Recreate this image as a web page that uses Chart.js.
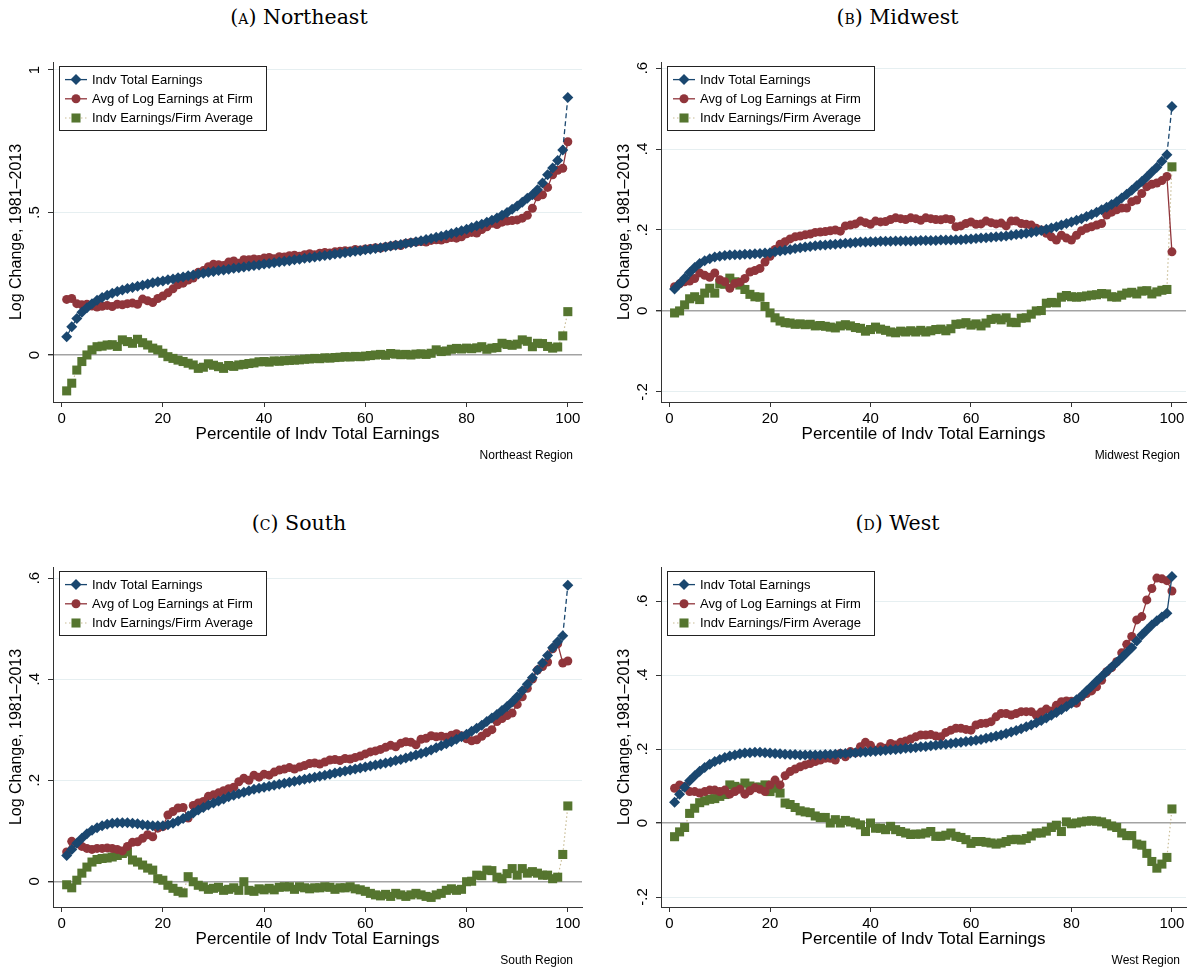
<!DOCTYPE html>
<html lang="en">
<head>
<meta charset="UTF-8">
<title>Log change by region</title>
<style>
  body { margin: 0; background: #fff; }
  #page { position: relative; width: 1197px; height: 973px; overflow: hidden; font-family: "Liberation Sans", Arial, sans-serif; }
  .ttl { position: absolute; text-align: center; font-family: "DejaVu Serif", serif; font-size: 20.5px; color: #000; line-height: 24px; }
  .sc { font-variant: small-caps; }
  .note { position: absolute; font-size: 12px; color: #000; line-height: 14px; text-align: right; }
  canvas { position: absolute; }
</style>
</head>
<body>
<div id="page">
  <div class="ttl" style="left:0; width:598px; top:5px"><span class="sc">(a)</span> Northeast</div>
  <div class="ttl" style="left:598px; width:599px; top:5px"><span class="sc">(b)</span> Midwest</div>
  <div class="ttl" style="left:0; width:598px; top:511px"><span class="sc">(c)</span> South</div>
  <div class="ttl" style="left:598px; width:599px; top:511px"><span class="sc">(d)</span> West</div>

  <canvas id="cNE" width="598" height="410" style="left:0; top:40px"></canvas>
  <canvas id="cMW" width="599" height="410" style="left:598px; top:40px"></canvas>
  <canvas id="cSO" width="598" height="410" style="left:0; top:545px"></canvas>
  <canvas id="cWE" width="599" height="410" style="left:598px; top:545px"></canvas>

  <div class="note" style="right:624px; top:448px">Northeast Region</div>
  <div class="note" style="right:17px; top:448px">Midwest Region</div>
  <div class="note" style="right:624px; top:953px">South Region</div>
  <div class="note" style="right:17px; top:953px">West Region</div>
</div>

<script src="https://cdn.jsdelivr.net/npm/chart.js"></script>
<script>
// percentile of individual total earnings
const pct = [
  1, 2, 3, 4, 5, 6, 7, 8, 9, 10,
  11, 12, 13, 14, 15, 16, 17, 18, 19, 20,
  21, 22, 23, 24, 25, 26, 27, 28, 29, 30,
  31, 32, 33, 34, 35, 36, 37, 38, 39, 40,
  41, 42, 43, 44, 45, 46, 47, 48, 49, 50,
  51, 52, 53, 54, 55, 56, 57, 58, 59, 60,
  61, 62, 63, 64, 65, 66, 67, 68, 69, 70,
  71, 72, 73, 74, 75, 76, 77, 78, 79, 80,
  81, 82, 83, 84, 85, 86, 87, 88, 89, 90,
  91, 92, 93, 94, 95, 96, 97, 98, 99, 100
];

const seriesNames = ['Indv Total Earnings', 'Avg of Log Earnings at Firm', 'Indv Earnings/Firm Average'];
const xTicks = [0, 20, 40, 60, 80, 100];

// Northeast
const neBlue = [
  .064, .099, .128, .150, .166, .180, .192, .202, .210, .217,
  .223, .228, .233, .237, .241, .245, .249, .253, .257, .260,
  .264, .267, .271, .274, .278, .281, .284, .287, .290, .293,
  .296, .298, .301, .304, .306, .309, .311, .314, .316, .319,
  .321, .324, .326, .329, .331, .334, .336, .339, .341, .344,
  .346, .349, .351, .354, .356, .359, .361, .364, .366, .369,
  .371, .374, .376, .379, .382, .385, .388, .391, .394, .397,
  .401, .405, .409, .413, .417, .421, .426, .431, .436, .441,
  .447, .453, .459, .466, .473, .481, .490, .500, .511, .523,
  .536, .550, .562, .580, .603, .632, .656, .682, .719, .903
];
const neRed = [
  .195, .198, .180, .176, .178, .172, .168, .171, .174, .170,
  .178, .176, .180, .182, .178, .196, .190, .184, .198, .207,
  .218, .232, .246, .252, .263, .270, .290, .296, .310, .318,
  .317, .314, .326, .330, .322, .334, .334, .337, .335, .340,
  .342, .338, .345, .344, .348, .350, .346, .352, .355, .352,
  .357, .360, .358, .362, .364, .366, .365, .370, .368, .372,
  .374, .376, .375, .380, .382, .386, .384, .392, .395, .396,
  .398, .396, .402, .404, .403, .408, .412, .410, .415, .425,
  .430, .428, .440, .450, .462, .458, .466, .470, .472, .474,
  .480, .490, .515, .555, .562, .588, .632, .648, .655, .748
];
const neGreen = [
  -.126, -.099, -.053, -.023, .000, .018, .029, .031, .035, .036,
  .030, .053, .047, .041, .055, .043, .035, .024, .018, .006,
  -.006, -.012, -.018, -.023, -.029, -.035, -.047, -.043, -.031, -.036,
  -.041, -.047, -.037, -.040, -.035, -.033, -.030, -.028, -.024, -.023,
  -.025, -.021, -.022, -.020, -.019, -.018, -.017, -.015, -.014, -.012,
  -.013, -.010, -.011, -.009, -.008, -.006, -.007, -.005, -.006, -.004,
  -.002, .000, .002, -.001, .005, .003, .001, .002, .000, .003,
  .004, .002, .006, .018, .012, .014, .020, .023, .021, .024,
  .022, .025, .029, .020, .024, .026, .041, .037, .034, .038,
  .053, .048, .029, .041, .040, .030, .024, .028, .067, .152
];
const neYTicks = [0, .5, 1];
const neYText = ['0', '.5', '1'];

// Midwest
const mwBlue = [
  .054, .067, .081, .095, .107, .117, .124, .129, .133, .135,
  .137, .138, .139, .139, .140, .140, .141, .142, .143, .144,
  .146, .148, .150, .152, .154, .156, .158, .159, .161, .162,
  .163, .164, .165, .166, .167, .168, .169, .170, .170, .171,
  .171, .172, .172, .172, .173, .173, .173, .173, .173, .174,
  .174, .174, .174, .175, .175, .175, .176, .176, .177, .178,
  .179, .180, .181, .182, .183, .184, .185, .187, .189, .190,
  .192, .194, .196, .199, .202, .205, .208, .212, .216, .220,
  .224, .228, .233, .238, .244, .250, .256, .263, .270, .279,
  .288, .298, .309, .320, .331, .343, .355, .370, .386, .505
];
const mwRed = [
  .060, .067, .072, .074, .080, .094, .088, .083, .094, .077,
  .072, .056, .068, .071, .080, .096, .100, .105, .121, .135,
  .152, .165, .171, .178, .183, .185, .188, .190, .194, .195,
  .196, .198, .200, .197, .210, .212, .215, .222, .218, .214,
  .222, .220, .221, .226, .230, .228, .226, .230, .228, .224,
  .230, .228, .226, .225, .228, .226, .208, .210, .216, .220,
  .214, .215, .222, .218, .215, .217, .210, .222, .222, .216,
  .214, .212, .204, .200, .192, .183, .175, .187, .180, .175,
  .187, .198, .204, .208, .212, .216, .237, .244, .250, .254,
  .254, .270, .274, .290, .307, .313, .316, .322, .332, .146
];
const mwGreen = [
  -.005, .000, .015, .030, .035, .028, .044, .056, .044, .067,
  .066, .081, .072, .064, .053, .041, .035, .034, .011, -.005,
  -.017, -.025, -.029, -.030, -.033, -.032, -.034, -.033, -.037, -.036,
  -.038, -.040, -.042, -.037, -.034, -.037, -.041, -.043, -.050, -.046,
  -.040, -.045, -.048, -.052, -.054, -.050, -.052, -.049, -.052, -.048,
  -.052, -.049, -.046, -.045, -.049, -.044, -.033, -.032, -.029, -.035,
  -.032, -.037, -.030, -.021, -.018, -.022, -.017, -.028, -.029, -.018,
  -.017, -.008, .000, .001, .019, .021, .020, .034, .038, .035,
  .034, .035, .037, .039, .040, .043, .042, .035, .034, .039,
  .044, .046, .042, .049, .050, .042, .047, .051, .053, .356
];
const mwYTicks = [-.2, 0, .2, .4, .6];
const mwYText = ['-.2', '0', '.2', '.4', '.6'];

// South
const soBlue = [
  .051, .063, .075, .085, .094, .101, .106, .110, .113, .115,
  .116, .116, .116, .115, .114, .112, .111, .110, .110, .110,
  .112, .115, .119, .124, .129, .135, .141, .146, .151, .155,
  .159, .163, .167, .170, .173, .176, .179, .182, .184, .186,
  .188, .190, .192, .194, .196, .198, .200, .202, .204, .206,
  .208, .210, .212, .214, .216, .218, .220, .222, .224, .226,
  .228, .230, .232, .234, .236, .239, .241, .244, .247, .250,
  .253, .256, .260, .264, .268, .272, .276, .281, .286, .291,
  .297, .303, .309, .316, .323, .330, .338, .346, .355, .365,
  .377, .390, .403, .418, .432, .447, .462, .474, .486, .586
];
const soRed = [
  .058, .079, .075, .069, .065, .063, .065, .065, .066, .065,
  .063, .060, .069, .077, .078, .085, .092, .088, .105, .108,
  .131, .138, .145, .146, .125, .150, .155, .158, .168, .171,
  .175, .179, .183, .186, .197, .204, .200, .210, .206, .212,
  .210, .216, .220, .222, .225, .222, .226, .229, .233, .234,
  .232, .236, .240, .241, .239, .243, .242, .245, .248, .252,
  .256, .258, .261, .265, .269, .266, .273, .276, .275, .270,
  .281, .283, .288, .286, .287, .285, .289, .292, .288, .282,
  .278, .280, .287, .294, .300, .316, .322, .328, .333, .350,
  .365, .382, .400, .418, .425, .434, .460, .470, .432, .436
];
const soGreen = [
  -.007, -.013, .002, .016, .028, .038, .043, .045, .046, .048,
  .051, .055, .058, .042, .038, .032, .026, .022, .005, .002,
  -.008, -.014, -.020, -.023, .009, -.001, -.008, -.011, -.016, -.014,
  -.012, -.018, -.016, -.013, -.018, -.001, -.018, -.020, -.015, -.017,
  -.014, -.017, -.012, -.011, -.011, -.016, -.011, -.013, -.015, -.013,
  -.013, -.011, -.012, -.016, -.013, -.013, -.011, -.015, -.017, -.020,
  -.024, -.027, -.029, -.026, -.030, -.024, -.027, -.030, -.027, -.024,
  -.027, -.030, -.032, -.027, -.024, -.018, -.015, -.018, -.016, -.001,
  .000, .012, .011, .022, .021, .008, .005, .015, .025, .012,
  .025, .016, .019, .016, .012, .012, .005, .008, .053, .149
];
const soYTicks = [0, .2, .4, .6];
const soYText = ['0', '.2', '.4', '.6'];

// West
const weBlue = [
  .056, .078, .097, .114, .128, .140, .150, .159, .166, .172,
  .177, .181, .184, .187, .189, .190, .191, .191, .190, .189,
  .188, .187, .186, .185, .185, .184, .184, .184, .184, .184,
  .185, .185, .186, .187, .188, .189, .190, .191, .192, .193,
  .194, .195, .197, .198, .199, .200, .202, .203, .204, .206,
  .207, .209, .210, .212, .213, .215, .217, .218, .220, .222,
  .224, .226, .229, .232, .235, .238, .242, .246, .250, .255,
  .260, .265, .271, .277, .284, .291, .299, .307, .315, .324,
  .333, .343, .357, .370, .383, .396, .409, .422, .434, .447,
  .460, .474, .492, .508, .522, .535, .547, .557, .567, .666
];
const weRed = [
  .094, .103, .099, .085, .085, .081, .085, .089, .089, .085,
  .089, .078, .085, .091, .078, .087, .095, .091, .085, .103,
  .116, .103, .128, .139, .146, .152, .157, .161, .166, .170,
  .175, .175, .170, .188, .179, .193, .190, .206, .218, .210,
  .197, .206, .202, .215, .211, .218, .222, .227, .233, .238,
  .238, .239, .235, .233, .245, .251, .256, .256, .253, .251,
  .265, .269, .270, .274, .287, .296, .296, .292, .296, .301,
  .301, .301, .292, .300, .308, .303, .318, .328, .330, .329,
  .324, .341, .350, .357, .368, .386, .409, .420, .436, .460,
  .483, .504, .549, .558, .603, .634, .662, .660, .655, .627
];
const weGreen = [
  -.037, -.024, -.012, .026, .040, .055, .060, .064, .066, .072,
  .077, .103, .099, .095, .108, .100, .097, .097, .103, .085,
  .094, .081, .054, .050, .042, .033, .030, .028, .019, .015,
  .015, .000, .009, .000, .007, .003, .000, -.005, -.023, .000,
  -.014, -.014, -.018, -.009, -.018, -.023, -.027, -.031, -.030, -.030,
  -.027, -.023, -.036, -.036, -.033, -.027, -.036, -.039, -.045, -.055,
  -.050, -.050, -.052, -.054, -.057, -.054, -.050, -.045, -.044, -.046,
  -.042, -.035, -.027, -.027, -.022, -.012, -.006, -.023, .003, -.002,
  .000, .003, .005, .006, .005, .003, -.002, -.008, -.012, -.027,
  -.034, -.034, -.057, -.060, -.082, -.104, -.122, -.111, -.093, .038
];
const weYTicks = [-.2, 0, .2, .4, .6];
const weYText = ['-.2', '0', '.2', '.4', '.6'];

const NAVY = '#1a476f';
const MAROON = '#90353b';
const FOREST = '#55752f';
const DOTLINE = '#c9bd96';
const FONT = '"Liberation Sans", Arial, sans-serif';

// rotated y labels + Stata style legend box
const stataExtras = {
  id: 'stataExtras',
  afterDraw(chart, args, opts) {
    const ctx = chart.ctx;
    const area = chart.chartArea;
    const ys = chart.scales.y;
    ctx.save();
    ctx.fillStyle = '#000';
    ctx.font = '15px ' + FONT;
    ctx.textAlign = 'center';
    ctx.textBaseline = 'middle';
    opts.ticks.forEach((v, i) => {
      ctx.save();
      ctx.translate(area.left - 18, ys.getPixelForValue(v));
      ctx.rotate(-Math.PI / 2);
      ctx.fillText(opts.tickText[i], 0, 0);
      ctx.restore();
    });

    const bx = Math.round(area.left) + 6, by = Math.round(area.top) + 4;
    const bw = 207, bh = 64;
    ctx.fillStyle = '#fff';
    ctx.fillRect(bx, by, bw, bh);
    ctx.strokeStyle = '#222';
    ctx.lineWidth = 1;
    ctx.strokeRect(bx + 0.5, by + 0.5, bw, bh);

    chart.data.datasets.forEach((ds, i) => {
      const cy = by + 13.6 + i * 19.2;
      ctx.strokeStyle = ds.borderColor;
      ctx.lineWidth = ds.borderWidth;
      ctx.setLineDash(ds.borderDash || []);
      ctx.beginPath();
      ctx.moveTo(bx + 6, cy);
      ctx.lineTo(bx + 28, cy);
      ctx.stroke();
      ctx.setLineDash([]);
      const mx = bx + 17;
      ctx.fillStyle = ds.pointBackgroundColor;
      ctx.beginPath();
      if (ds.pointStyle === 'rectRot') {
        const r = ds.pointRadius;
        ctx.moveTo(mx - r, cy); ctx.lineTo(mx, cy - r); ctx.lineTo(mx + r, cy); ctx.lineTo(mx, cy + r);
        ctx.closePath();
      } else if (ds.pointStyle === 'rect') {
        const s = ds.pointRadius * Math.SQRT1_2;
        ctx.rect(mx - s, cy - s, 2 * s, 2 * s);
      } else {
        ctx.arc(mx, cy, ds.pointRadius, 0, Math.PI * 2);
      }
      ctx.fill();
      ctx.fillStyle = '#000';
      ctx.font = '13px ' + FONT;
      ctx.textAlign = 'left';
      ctx.textBaseline = 'middle';
      ctx.fillText(ds.label, bx + 33, cy + 0.5);
    });
    ctx.restore();
  }
};

function toXY(vals) {
  return pct.map((p, i) => ({ x: p, y: vals[i] }));
}

function makePanel(id, cfg) {
  return new Chart(document.getElementById(id), {
    type: 'line',
    data: {
      datasets: [
        {
          label: seriesNames[0],
          data: toXY(cfg.blue),
          borderColor: NAVY,
          borderWidth: 1.3,
          pointStyle: 'rectRot',
          pointRadius: 5.5,
          pointBackgroundColor: NAVY,
          pointBorderWidth: 0,
          segment: {
            borderDash: c => (cfg.lastDash && c.p1DataIndex === 99 ? [5, 3] : undefined)
          }
        },
        {
          label: seriesNames[1],
          data: toXY(cfg.red),
          borderColor: MAROON,
          borderWidth: 1.3,
          pointStyle: 'circle',
          pointRadius: 4.5,
          pointBackgroundColor: MAROON,
          pointBorderWidth: 0
        },
        {
          label: seriesNames[2],
          data: toXY(cfg.green),
          borderColor: DOTLINE,
          borderWidth: 1.2,
          borderDash: [1.5, 2.5],
          pointStyle: 'rect',
          pointRadius: 6.4,
          pointBackgroundColor: FOREST,
          pointBorderWidth: 0
        }
      ]
    },
    options: {
      responsive: false,
      devicePixelRatio: 1,
      animation: false,
      events: [],
      layout: { padding: { left: 0, top: 22, right: cfg.rightPad, bottom: 0 } },
      scales: {
        x: {
          type: 'linear',
          min: -1.7,
          max: 102.8,
          afterBuildTicks: s => { s.ticks = xTicks.map(v => ({ value: v })); },
          afterFit: s => { s.height = 48; },
          ticks: { color: '#000', font: { size: 15, family: FONT }, padding: 3, maxRotation: 0, autoSkip: false },
          grid: { drawOnChartArea: false, drawTicks: true, tickLength: 5, tickColor: '#333' },
          border: { display: true, color: '#333', width: 1 },
          title: {
            display: true,
            text: 'Percentile of Indv Total Earnings',
            color: '#000',
            font: { size: 17, family: FONT },
            padding: { top: 0, bottom: 5.8 }
          }
        },
        y: {
          min: cfg.yMin,
          max: cfg.yMax,
          afterBuildTicks: s => { s.ticks = cfg.yTicks.map(v => ({ value: v })); },
          afterFit: s => { s.width = cfg.yWidth; },
          ticks: { display: false },
          grid: {
            color: c => (c.tick && c.tick.value === 0 ? '#a3a3a3' : '#e6eff1'),
            lineWidth: c => (c.tick && c.tick.value === 0 ? 1.4 : 1),
            drawTicks: true,
            tickLength: 5,
            tickColor: '#333'
          },
          border: { display: true, color: '#333', width: 1 },
          title: {
            display: true,
            text: 'Log Change, 1981\u20132013',
            color: '#000',
            font: { size: 16, family: FONT },
            padding: { top: cfg.yTitlePad, bottom: 0 }
          }
        }
      },
      plugins: {
        legend: { display: false },
        tooltip: { enabled: false },
        stataExtras: { ticks: cfg.yTicks, tickText: cfg.yText }
      }
    },
    plugins: [stataExtras]
  });
}

makePanel('cNE', {
  blue: neBlue, red: neRed, green: neGreen,
  yMin: -0.165, yMax: 1.028, yTicks: neYTicks, yText: neYText,
  yWidth: 53, yTitlePad: 7.4, rightPad: 16, lastDash: true
});
makePanel('cMW', {
  blue: mwBlue, red: mwRed, green: mwGreen,
  yMin: -0.225, yMax: 0.615, yTicks: mwYTicks, yText: mwYText,
  yWidth: 63, yTitlePad: 17.4, rightPad: 11, lastDash: true
});
makePanel('cSO', {
  blue: soBlue, red: soRed, green: soGreen,
  yMin: -0.051, yMax: 0.622, yTicks: soYTicks, yText: soYText,
  yWidth: 53, yTitlePad: 7.4, rightPad: 16, lastDash: true
});
makePanel('cWE', {
  blue: weBlue, red: weRed, green: weGreen,
  yMin: -0.227, yMax: 0.692, yTicks: weYTicks, yText: weYText,
  yWidth: 63, yTitlePad: 17.4, rightPad: 11, lastDash: false
});
</script>
</body>
</html>
